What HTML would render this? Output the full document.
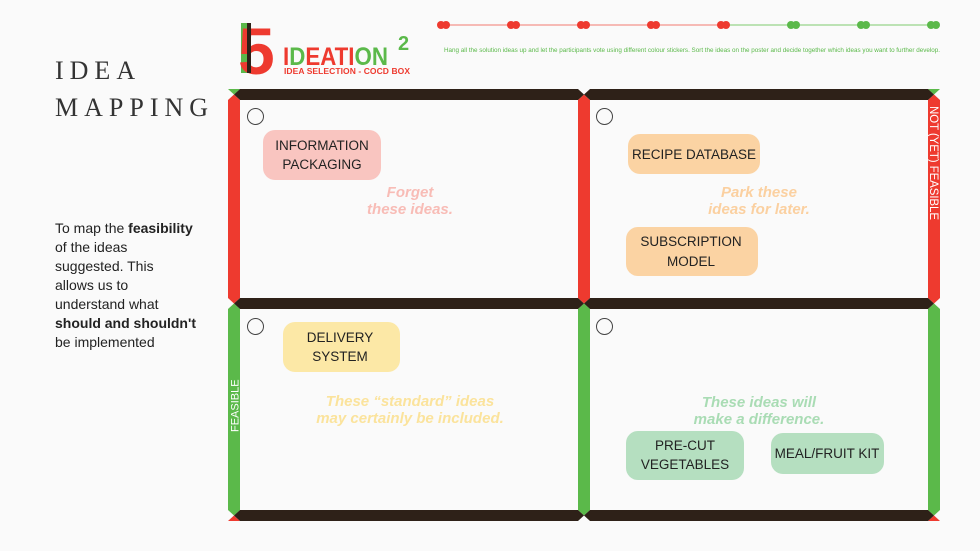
<!DOCTYPE html>
<html><head><meta charset="utf-8"><style>
body{margin:0;background:#fafafa;}
svg{display:block}
</style></head><body>
<svg width="980" height="551" viewBox="0 0 980 551" xmlns="http://www.w3.org/2000/svg" font-family="Liberation Sans, sans-serif">
<rect width="980" height="551" fill="#fafafa"/>
<!-- left text -->
<text x="55" y="79" font-family="Liberation Serif, serif" font-size="26" letter-spacing="6" fill="#333">IDEA</text>
<text x="55" y="116" font-family="Liberation Serif, serif" font-size="26" letter-spacing="6" fill="#333">MAPPING</text>
<g font-size="14" fill="#222">
<text x="55" y="233">To map the <tspan font-weight="bold">feasibility</tspan></text>
<text x="55" y="252">of the ideas</text>
<text x="55" y="271">suggested. This</text>
<text x="55" y="290">allows us to</text>
<text x="55" y="309">understand what</text>
<text x="55" y="328" font-weight="bold">should and shouldn't</text>
<text x="55" y="347">be implemented</text>
</g>
<!-- logo -->
<rect x="241" y="23" width="10" height="50" fill="#5bb94a"/>
<text x="238" y="74" font-size="66" font-weight="bold" fill="#ee3a2f">5</text>
<rect x="247" y="23" width="4" height="50" fill="#2e2118"/>
<text x="283" y="65" font-size="25" font-weight="bold" fill="#ee3a2f" textLength="105" lengthAdjust="spacingAndGlyphs">I<tspan fill="#5bb94a">D</tspan>EATI<tspan fill="#5bb94a">ON</tspan></text>
<text x="398" y="50" font-size="20" font-weight="bold" fill="#5bb94a">2</text>
<text x="284" y="74" font-size="8.5" font-weight="bold" fill="#ee3a2f" textLength="126">IDEA SELECTION - COCD BOX</text>
<!-- timeline -->
<line x1="443" y1="25" x2="723" y2="25" stroke="#f4a59e" stroke-width="1.5"/>
<line x1="723" y1="25" x2="933" y2="25" stroke="#a8d99c" stroke-width="1.5"/>
<g fill="#ee3a2f"><circle cx="441" cy="25" r="4"/><circle cx="446" cy="25" r="4"/><circle cx="511" cy="25" r="4"/><circle cx="516" cy="25" r="4"/><circle cx="581" cy="25" r="4"/><circle cx="586" cy="25" r="4"/><circle cx="651" cy="25" r="4"/><circle cx="656" cy="25" r="4"/><circle cx="721" cy="25" r="4"/><circle cx="726" cy="25" r="4"/></g>
<g fill="#5bb94a"><circle cx="791" cy="25" r="4"/><circle cx="796" cy="25" r="4"/><circle cx="861" cy="25" r="4"/><circle cx="866" cy="25" r="4"/><circle cx="931" cy="25" r="4"/><circle cx="936" cy="25" r="4"/></g>
<text x="444" y="52" font-size="6.3" fill="#5bb94a" textLength="496">Hang all the solution ideas up and let the participants vote using different colour stickers. Sort the ideas on the poster and decide together which ideas you want to further develop.</text>
<!-- vertical bars -->
<g fill="#ee3a2f">
<polygon points="234,94.5 240,100 240,298 234,303.5 228,298 228,100"/>
<polygon points="584,94.5 590,100 590,298 584,303.5 578,298 578,100"/>
<polygon points="934,94.5 940,100 940,298 934,303.5 928,298 928,100"/>
</g>
<g fill="#5bb94a">
<polygon points="234,303.5 240,309 240,510 234,515.5 228,510 228,309"/>
<polygon points="584,303.5 590,309 590,510 584,515.5 578,510 578,309"/>
<polygon points="934,303.5 940,309 940,510 934,515.5 928,510 928,309"/>
<polygon points="228,89 240,89 234,94.5"/>
<polygon points="928,89 940,89 934,94.5"/>
</g>
<g fill="#ee3a2f">
<polygon points="228,521 240,521 234,515.5"/>
<polygon points="928,521 940,521 934,515.5"/>
</g>
<!-- horizontal bars -->
<g fill="#2e2118">
<polygon points="234,94.5 240,89 578,89 584,94.5 578,100 240,100"/>
<polygon points="584,94.5 590,89 928,89 934,94.5 928,100 590,100"/>
<polygon points="234,303.5 240,298 578,298 584,303.5 578,309 240,309"/>
<polygon points="584,303.5 590,298 928,298 934,303.5 928,309 590,309"/>
<polygon points="234,515.5 240,510 578,510 584,515.5 578,521 240,521"/>
<polygon points="584,515.5 590,510 928,510 934,515.5 928,521 590,521"/>
</g>
<text transform="translate(930,106) rotate(90)" font-size="11.5" fill="#fff" textLength="114">NOT (YET) FEASIBLE</text>
<text transform="translate(238.5,432) rotate(-90)" font-size="11" fill="#fff">FEASIBLE</text>
<!-- circles -->
<g fill="none" stroke="#444" stroke-width="1">
<circle cx="255.5" cy="116.5" r="8"/><circle cx="604.5" cy="116.5" r="8"/>
<circle cx="255.5" cy="326.5" r="8"/><circle cx="604.5" cy="326.5" r="8"/>
</g>
<!-- notes -->
<rect x="263" y="130" width="118" height="50" rx="12" fill="#f9c5c0"/>
<rect x="628" y="134" width="132" height="40" rx="12" fill="#fbd3a3"/>
<rect x="626" y="227" width="132" height="49" rx="12" fill="#fbd3a3"/>
<rect x="283" y="322" width="117" height="50" rx="12" fill="#fce8a6"/>
<rect x="626" y="431" width="118" height="49" rx="12" fill="#b5dfc0"/>
<rect x="771" y="433" width="113" height="41" rx="12" fill="#b5dfc0"/>
<g font-size="13.5" fill="#222" text-anchor="middle">
<text x="322" y="150">INFORMATION</text><text x="322" y="169">PACKAGING</text>
<text x="694" y="159">RECIPE DATABASE</text>
<text x="691" y="246">SUBSCRIPTION</text><text x="691" y="266">MODEL</text>
<text x="340" y="342">DELIVERY</text><text x="340" y="361">SYSTEM</text>
<text x="685" y="450">PRE-CUT</text><text x="685" y="469">VEGETABLES</text>
<text x="827" y="458">MEAL/FRUIT KIT</text>
</g>
<g font-size="15" font-weight="bold" font-style="italic" text-anchor="middle">
<text x="410" y="197" fill="#f8bcb6">Forget</text><text x="410" y="214" fill="#f8bcb6">these ideas.</text>
<text x="759" y="197" fill="#fbd0a0">Park these</text><text x="759" y="214" fill="#fbd0a0">ideas for later.</text>
<text x="410" y="406" fill="#fbe39c">These “standard” ideas</text><text x="410" y="423" fill="#fbe39c">may certainly be included.</text>
<text x="759" y="407" fill="#a9dcb4">These ideas will</text><text x="759" y="424" fill="#a9dcb4">make a difference.</text>
</g>
</svg>
</body></html>
